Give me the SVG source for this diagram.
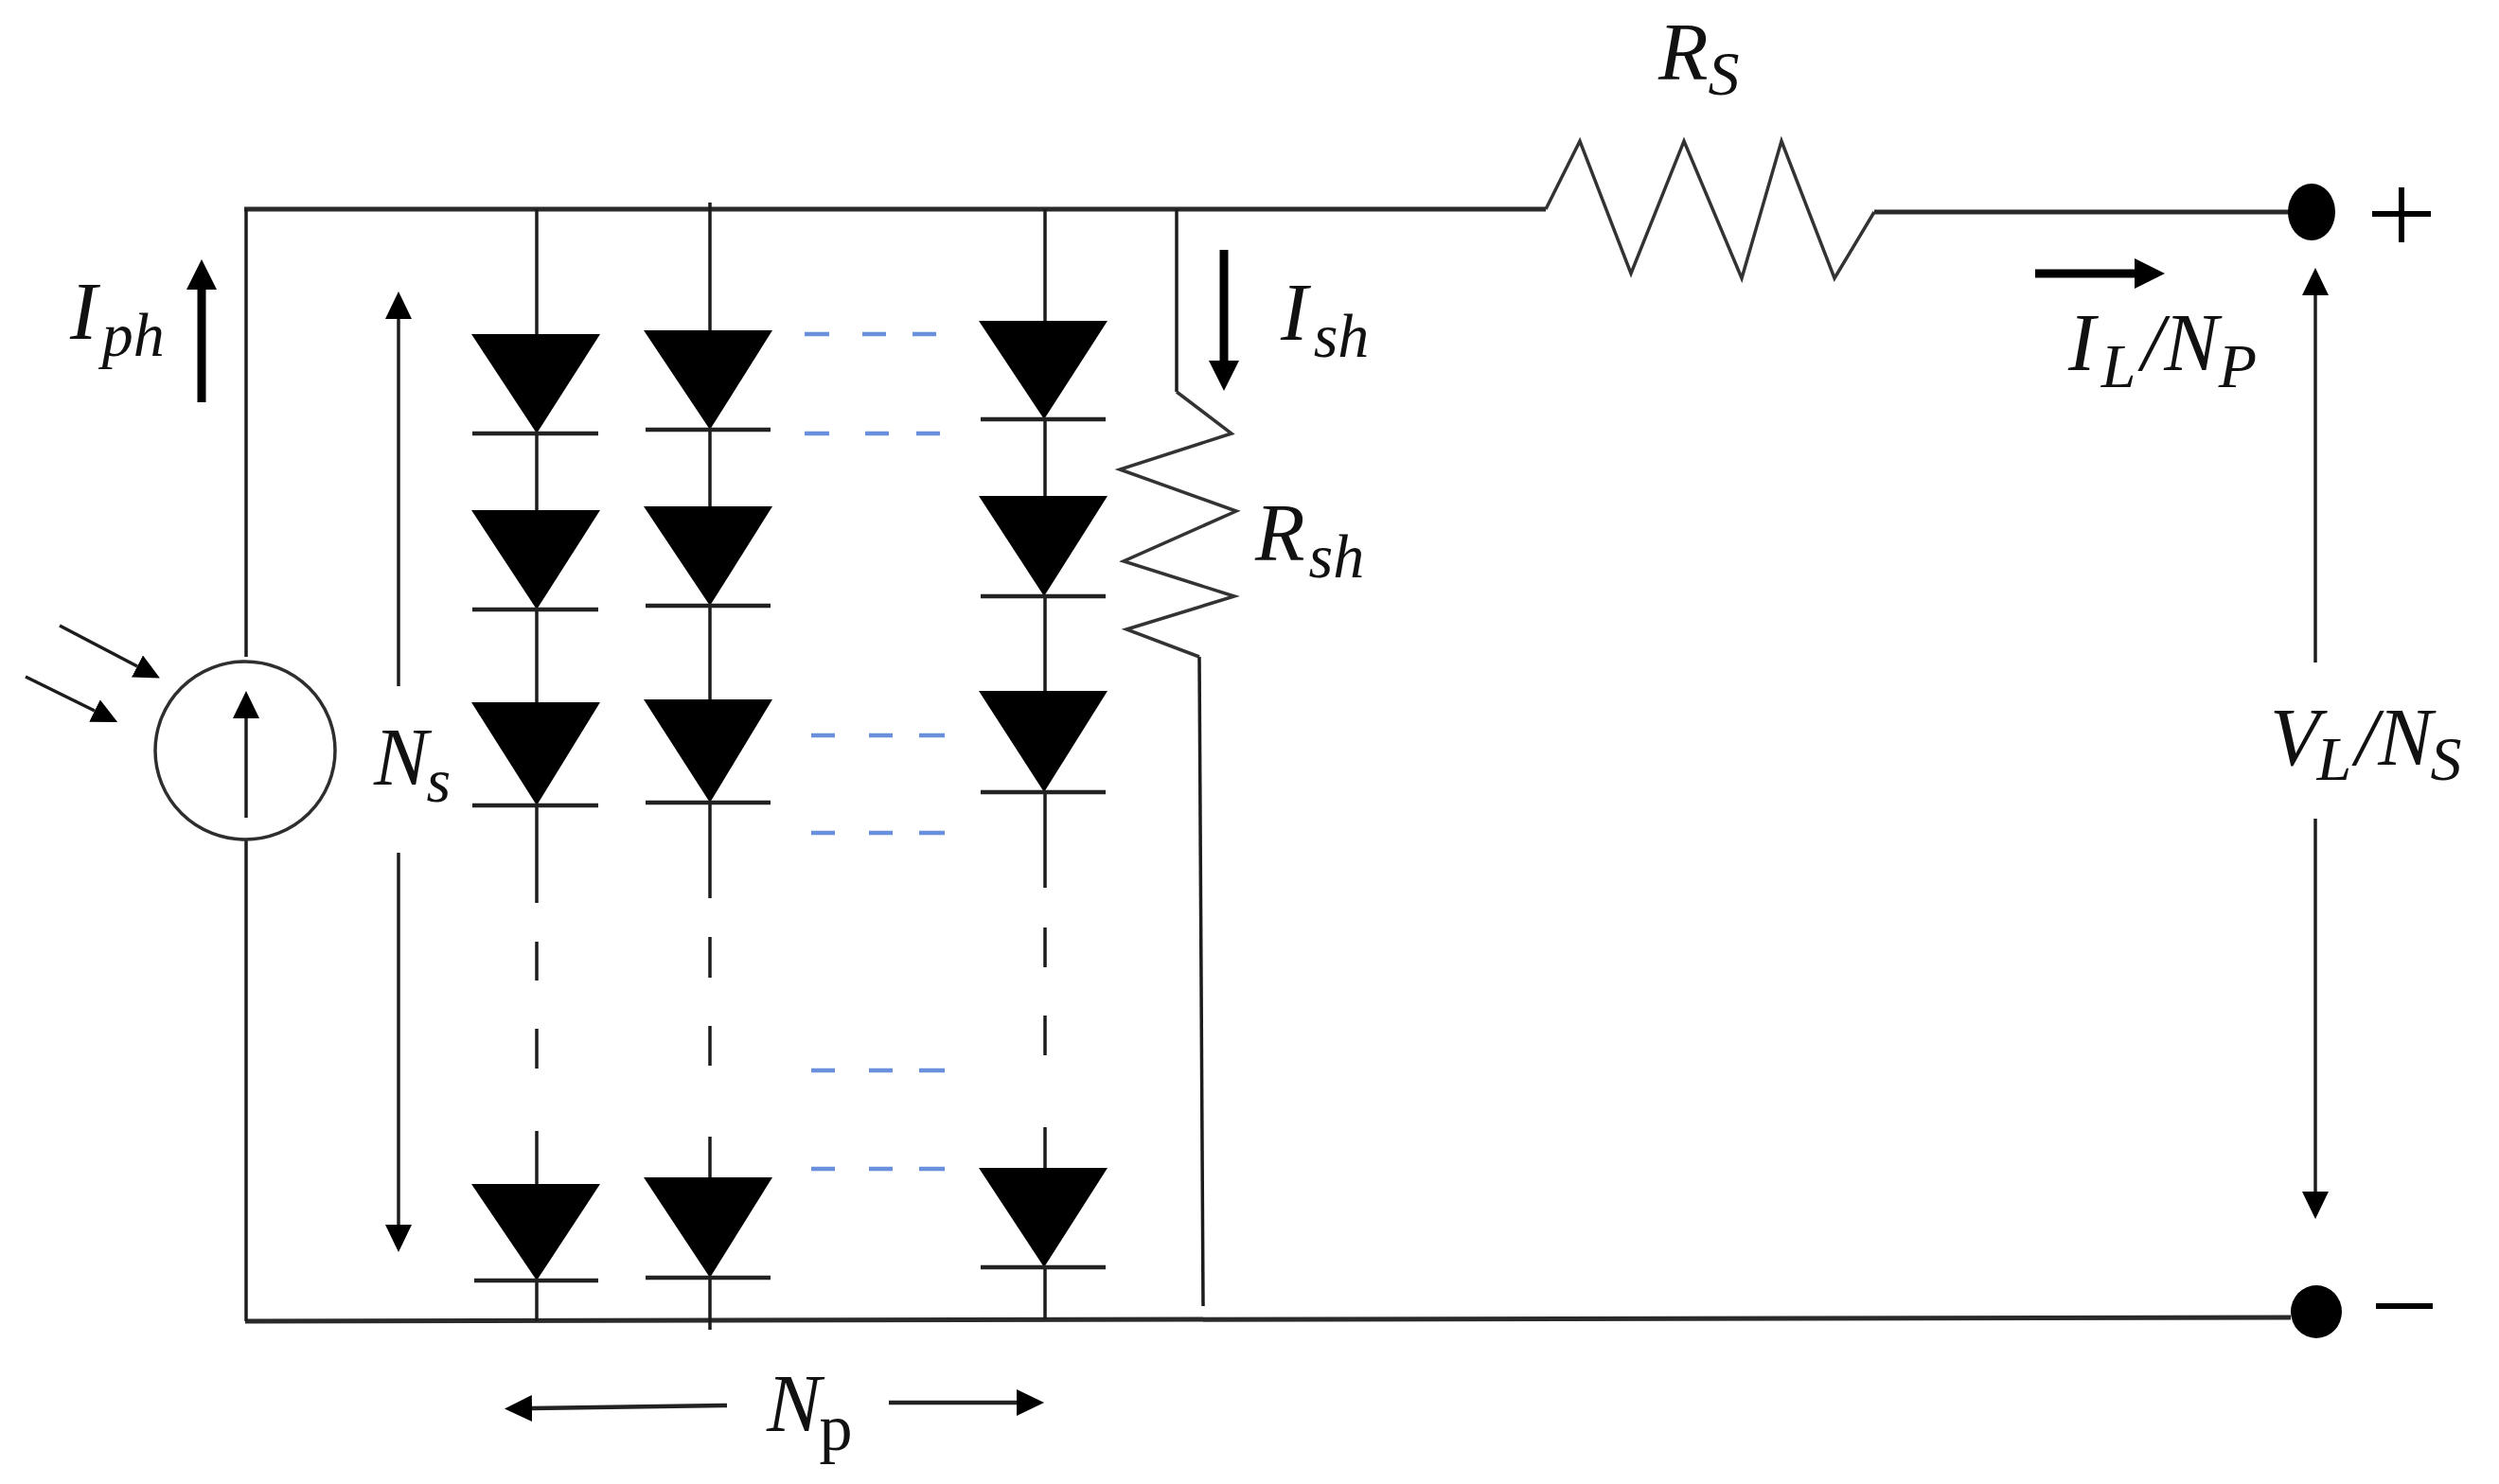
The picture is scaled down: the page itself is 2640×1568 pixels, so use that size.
<svg xmlns="http://www.w3.org/2000/svg" width="2640" height="1568" viewBox="0 0 2640 1568">
<defs>
<style>
.w{fill:none;stroke:#1c1c1c;stroke-width:3.5;stroke-linejoin:miter}
.b{fill:none;stroke:#2a2a2a;stroke-width:5}
.z{fill:none;stroke:#333;stroke-width:3.5;stroke-linejoin:miter}
.t{fill:none;stroke:#000;stroke-width:9}
.a{fill:none;stroke:#1c1c1c;stroke-width:3.5}
.bl{fill:none;stroke:#6a8fdc;stroke-width:4.5}
.d{fill:#000}
.c{fill:none;stroke:#2e2e2e;stroke-width:3.5}
.cb{fill:none;stroke:#222;stroke-width:4.5}
text{font-family:"Liberation Serif","DejaVu Serif",serif;font-style:italic;fill:#111}
.m{font-size:86px}
.s{font-size:66px}
.u{font-style:normal}
</style>
<marker id="h" markerUnits="userSpaceOnUse" viewBox="0 0 29 28" refX="0" refY="14" markerWidth="29" markerHeight="28" orient="auto"><path d="M0 0L29 14L0 28Z" fill="#000"/></marker>
<marker id="hb" markerUnits="userSpaceOnUse" viewBox="0 0 32 32" refX="0" refY="16" markerWidth="32" markerHeight="32" orient="auto"><path d="M0 0L32 16L0 32Z" fill="#000"/></marker>
<marker id="hr" markerUnits="userSpaceOnUse" viewBox="0 0 27 26" refX="0" refY="13" markerWidth="27" markerHeight="26" orient="auto"><path d="M0 0L27 13L0 26Z" fill="#000"/></marker>
</defs>
<rect width="2640" height="1568" fill="#fff"/>
<g id="connectors">
<path class="b" d="M258 221H1633"/>
<path class="b" d="M259 1396L2420 1392"/>
<path class="w" d="M260 221V694M260 887V1396"/>
<path class="w" d="M567 221V353M567 458V539M567 644V742M567 851V954M567 995V1036M567 1087V1129M567 1195V1251M567 1353V1396"/>
<path class="w" d="M750 214V349M750 454V535M750 640V739M750 848V949M750 990V1033M750 1084V1126M750 1201V1244M750 1350V1405"/>
<path class="w" d="M1104 221V339M1104 443V524M1104 630V730M1104 837V938M1104 980V1022M1104 1073V1115M1104 1191V1234M1104 1339V1394"/>
<path class="w" d="M1243 221V414"/>
<path class="w" d="M1267 694L1271 1380"/>
<path class="b" d="M1980 224H2420"/>
<path class="a" d="M421 725V337" marker-end="url(#h)"/>
<path class="a" d="M421 901V1294" marker-end="url(#h)"/>
<path class="a" d="M2446 700V312" marker-end="url(#h)"/>
<path class="a" d="M2446 865V1259" marker-end="url(#h)"/>
<path class="cb" d="M768 1485L562 1488" marker-end="url(#h)"/>
<path class="cb" d="M939 1482H1074" marker-end="url(#h)"/>
<path class="t" d="M213 425V306" marker-end="url(#hb)"/>
<path class="t" d="M1293 264V381" marker-end="url(#hb)"/>
<path class="t" d="M2150 289H2255" marker-end="url(#hb)"/>
<path class="a" d="M63 661L145 704" marker-end="url(#hr)"/>
<path class="a" d="M27 715L100 751" marker-end="url(#hr)"/>
<path class="bl" d="M850 353H876M911 353H936M964 353H989"/>
<path class="bl" d="M850 458H876M914 458H939M968 458H993"/>
<path class="bl" d="M857 777H882M918 777H943M971 777H998"/>
<path class="bl" d="M857 880H882M918 880H943M971 880H998"/>
<path class="bl" d="M857 1131H882M918 1131H943M971 1131H998"/>
<path class="bl" d="M857 1235H882M918 1235H943M971 1235H998"/>
</g>
<g id="source">
<ellipse class="c" cx="259" cy="793" rx="95" ry="94"/>
<path class="a" d="M260 864V759" marker-end="url(#h)"/>
</g>
<g id="diode-1-1"><path class="d" d="M498 353H634L567 458Z"/><path class="cb" d="M499 458H632"/></g>
<g id="diode-1-2"><path class="d" d="M498 539H634L567 644Z"/><path class="cb" d="M499 644H632"/></g>
<g id="diode-1-3"><path class="d" d="M498 742H634L567 851Z"/><path class="cb" d="M499 851H632"/></g>
<g id="diode-1-4"><path class="d" d="M498 1251H634L567 1353Z"/><path class="cb" d="M501 1353H632"/></g>
<g id="diode-2-1"><path class="d" d="M680 349H816L750 454Z"/><path class="cb" d="M682 454H814"/></g>
<g id="diode-2-2"><path class="d" d="M680 535H816L750 640Z"/><path class="cb" d="M682 640H814"/></g>
<g id="diode-2-3"><path class="d" d="M680 739H816L750 848Z"/><path class="cb" d="M682 848H814"/></g>
<g id="diode-2-4"><path class="d" d="M680 1244H816L750 1350Z"/><path class="cb" d="M682 1350H814"/></g>
<g id="diode-3-1"><path class="d" d="M1034 339H1170L1103 443Z"/><path class="cb" d="M1036 443H1168"/></g>
<g id="diode-3-2"><path class="d" d="M1034 524H1170L1103 630Z"/><path class="cb" d="M1036 630H1168"/></g>
<g id="diode-3-3"><path class="d" d="M1034 730H1170L1103 837Z"/><path class="cb" d="M1036 837H1168"/></g>
<g id="diode-3-4"><path class="d" d="M1034 1234H1170L1103 1339Z"/><path class="cb" d="M1036 1339H1168"/></g>
<g id="rsh"><path class="z" d="M1243 414L1301 458L1183 496L1306 540L1187 593L1304 630L1190 665L1267 694"/></g>
<g id="rs"><path class="z" d="M1633 221L1669 149L1723 289L1779 149L1840 294L1882 149L1938 294L1980 224"/></g>
<g id="terminal-plus">
<ellipse class="d" cx="2442" cy="224" rx="25" ry="30"/>
<path fill="none" stroke="#000" stroke-width="6" d="M2506 226H2568M2537 198V256"/>
</g>
<g id="terminal-minus">
<ellipse class="d" cx="2447" cy="1386" rx="27" ry="28"/>
<path fill="none" stroke="#000" stroke-width="6" d="M2510 1380H2570"/>
</g>
<g id="labels">
<text class="m" x="74" y="358">I<tspan class="s" dy="18" dx="5">ph</tspan></text>
<text class="m" x="395" y="829">N<tspan class="s" dy="18" dx="-2">s</tspan></text>
<text class="m" x="1353" y="359">I<tspan class="s" dy="18" dx="6">sh</tspan></text>
<text class="m" x="1326" y="592">R<tspan class="s" dy="18" dx="4">sh</tspan></text>
<text class="m" x="1752" y="84">R<tspan class="s" dy="16" dx="0">S</tspan></text>
<text class="m" x="2185" y="391">I<tspan class="s" dy="18" dx="6">L</tspan><tspan dy="-18" dx="6">/N</tspan><tspan class="s" dy="18" dx="0">P</tspan></text>
<text class="m" x="2398" y="808">V<tspan class="s" dy="16" dx="-3">L</tspan><tspan dy="-16" dx="4">/N</tspan><tspan class="s" dy="16" dx="-2">S</tspan></text>
<text class="m" x="810" y="1512">N<tspan class="s u" dy="20" dx="-2" font-size="70" style="font-size:70px">p</tspan></text>
</g>
</svg>
